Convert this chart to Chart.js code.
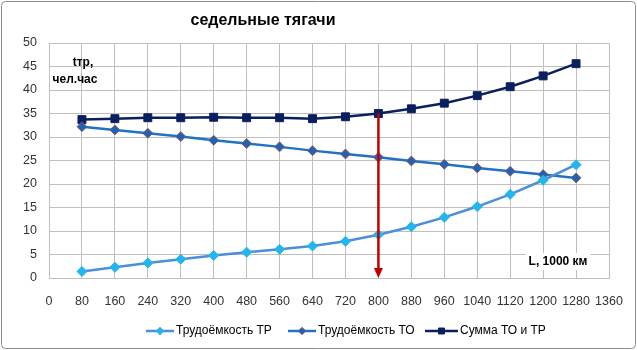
<!DOCTYPE html>
<html>
<head>
<meta charset="utf-8">
<script src="https://cdn.jsdelivr.net/npm/chart.js@4/dist/chart.umd.min.js"></script>
<style>
  html, body { margin: 0; padding: 0; background: #fff; }
  #wrap { width: 637px; height: 350px; }
</style>
</head>
<body>
<div id="wrap"><canvas id="canvas" width="637" height="350"></canvas></div>
<script>
const chartTitle = 'седельные тягачи'
const probeg = [80, 160, 240, 320, 400, 480, 560, 640, 720, 800, 880, 960, 1040, 1120, 1200, 1280]
const trudTR = [1.4, 2.3, 3.2, 4.0, 4.8, 5.5, 6.1, 6.8, 7.8, 9.2, 10.9, 12.9, 15.2, 17.8, 20.8, 24.1]
const trudTO = [32.2, 31.5, 30.8, 30.1, 29.3, 28.6, 27.9, 27.1, 26.4, 25.7, 24.9, 24.2, 23.4, 22.7, 22.0, 21.3]
const summa = [33.7, 33.9, 34.1, 34.1, 34.2, 34.1, 34.1, 33.9, 34.3, 35.0, 36.0, 37.2, 38.8, 40.7, 43.0, 45.6]
const seriesNames = ['Трудоёмкость ТР', 'Трудоёмкость ТО', 'Сумма ТО и ТР']
const optimum = 800
const yLabel = ['tтр,', 'чел.час']
const xLabel = 'L, 1000 км'

const font = '"Liberation Sans", Arial, sans-serif'
const pts = ys => probeg.map((x, i) => ({ x: x, y: ys[i] }))

// frame, title, notes, arrow and legend
const extras = {
    id: 'extras',
    beforeDraw(chart) {
        const { ctx } = chart
        ctx.save()
        ctx.fillStyle = '#fff'
        ctx.fillRect(0, 0, chart.width, chart.height)
        ctx.strokeStyle = '#8c8c8c'
        ctx.lineWidth = 1
        ctx.beginPath()
        ctx.roundRect(1.5, 1.5, chart.width - 3, chart.height - 3, 4)
        ctx.stroke()
        ctx.restore()
    },
    afterDatasetsDraw(chart) {
        const { ctx, scales: { x, y } } = chart
        ctx.save()
        // arrow
        const ax = x.getPixelForValue(optimum)
        const top = y.getPixelForValue(summa[probeg.indexOf(optimum)])
        const bot = y.getPixelForValue(0)
        ctx.strokeStyle = '#c00000'
        ctx.fillStyle = '#c00000'
        ctx.lineWidth = 2.5
        ctx.beginPath()
        ctx.moveTo(ax, top)
        ctx.lineTo(ax, bot - 8)
        ctx.stroke()
        ctx.beginPath()
        ctx.moveTo(ax - 4.5, bot - 10)
        ctx.lineTo(ax + 4.5, bot - 10)
        ctx.lineTo(ax, bot)
        ctx.closePath()
        ctx.fill()

        // title
        ctx.fillStyle = '#000'
        ctx.textBaseline = 'middle'
        ctx.textAlign = 'center'
        ctx.font = 'bold 16px ' + font
        ctx.fillText(chartTitle, 263, 21)

        // axis notes
        ctx.font = 'bold 12px ' + font
        ctx.fillText(yLabel[0], 83, 63)
        ctx.fillText(yLabel[1], 75, 80)
        const w = ctx.measureText(xLabel).width
        ctx.fillStyle = '#fff'
        ctx.fillRect(558 - w / 2 - 3, 253, w + 6, 17)
        ctx.fillStyle = '#000'
        ctx.fillText(xLabel, 558, 262)

        // legend
        const items = [
            { x: 146, len: 28 },
            { x: 288, len: 28 },
            { x: 425, len: 33 }
        ]
        ctx.font = '12px ' + font
        ctx.textAlign = 'left'
        chart.data.datasets.forEach((ds, i) => {
            const it = items[i]
            const ly = 331
            ctx.strokeStyle = ds.borderColor
            ctx.lineWidth = ds.borderWidth
            ctx.beginPath()
            ctx.moveTo(it.x, ly)
            ctx.lineTo(it.x + it.len, ly)
            ctx.stroke()
            ctx.fillStyle = ds.pointBackgroundColor
            ctx.strokeStyle = ds.pointBorderColor
            ctx.lineWidth = ds.pointBorderWidth
            Chart.helpers.drawPoint(ctx, {
                pointStyle: ds.pointStyle,
                radius: ds.pointRadius * 0.75,
                borderWidth: ds.pointBorderWidth
            }, it.x + it.len / 2, ly)
            ctx.fillStyle = '#000'
            ctx.fillText(seriesNames[i], it.x + it.len + 2, ly)
        })
        ctx.restore()
    }
}

const configChart = {
    type: 'line',
    plugins: [extras],
    data: {
        datasets: [{
            label: seriesNames[0],
            data: pts(trudTR),
            borderColor: '#4a8fdc',
            borderWidth: 2.5,
            pointStyle: 'rectRot',
            pointRadius: 5,
            pointBackgroundColor: '#22b5ee',
            pointBorderColor: '#22b5ee',
            pointBorderWidth: 1
        }, {
            label: seriesNames[1],
            data: pts(trudTO),
            borderColor: '#1f72c4',
            borderWidth: 2.5,
            pointStyle: 'rectRot',
            pointRadius: 5,
            pointBackgroundColor: '#1f64b0',
            pointBorderColor: '#a04a5a',
            pointBorderWidth: 0.8
        }, {
            label: seriesNames[2],
            data: pts(summa),
            borderColor: '#0c1f5c',
            borderWidth: 2.5,
            pointStyle: 'rect',
            pointRadius: 5.6,
            pointBackgroundColor: '#0a1f5e',
            pointBorderColor: '#0a1f5e',
            pointBorderWidth: 1
        }]
    },
    options: {
        responsive: false,
        animation: false,
        events: [],
        layout: { padding: { left: 0, right: 28, top: 43, bottom: 0 } },
        plugins: {
            legend: { display: false },
            tooltip: { enabled: false },
            title: { display: false }
        },
        scales: {
            x: {
                type: 'linear',
                min: 0,
                max: 1360,
                afterBuildTicks: s => { s.ticks = [0].concat(probeg, [1360]).map(v => ({ value: v })) },
                afterFit: s => { s.height = 72; s.paddingLeft = 0; s.paddingRight = 0 },
                grid: { color: '#bfbfbf', drawTicks: false },
                border: { color: '#bfbfbf' },
                ticks: {
                    padding: 16, color: '#333', font: { family: font, size: 12.5 },
                    maxRotation: 0, autoSkip: false,
                    callback: v => String(v)
                }
            },
            y: {
                min: 0,
                max: 50,
                afterFit: s => { s.width = 49; s.paddingTop = 0; s.paddingBottom = 0 },
                grid: { color: '#bfbfbf', drawTicks: false },
                border: { color: '#bfbfbf' },
                ticks: { stepSize: 5, padding: 12, color: '#333', font: { family: font, size: 12.5 } }
            }
        }
    }
}

const canvas = document.getElementById('canvas')
const myChart = new Chart(canvas, configChart)
</script>
</body>
</html>
